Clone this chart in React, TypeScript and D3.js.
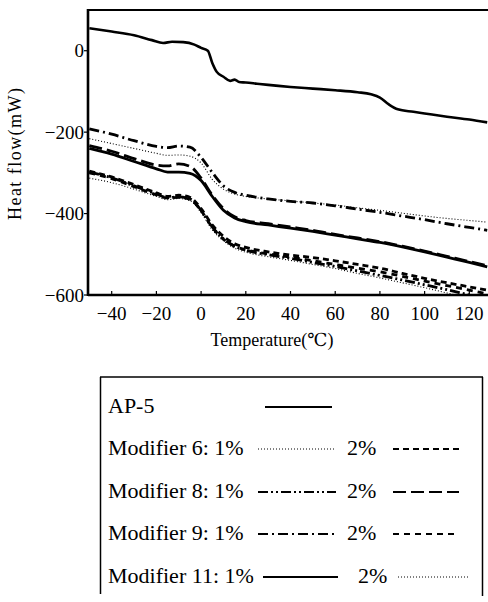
import React from "react";
import * as d3 from "d3";

const W = 488;
const H = 602;

const X_TICKS = [-40, -20, 0, 20, 40, 60, 80, 100, 120];
const Y_TICKS = [0, -200, -400, -600];

const AP5_TEMPS = [-50, -40, -30, -22, -17, -13, -8, -3, 0, 3, 5, 7, 10, 13, 15, 17, 20, 25, 30, 40, 50, 60, 70, 76, 80, 84, 88, 95, 100, 110, 120, 128];
const AP5 = [55, 47, 38, 26, 19, 22, 21, 15, 7, 0, -30, -52, -64, -74, -71, -77, -78, -81, -84, -89, -93, -97, -102, -107, -115, -132, -144, -150, -154, -162, -169, -176];

const TEMPS = [-50, -40, -30, -20, -15, -10, -5, 0, 5, 10, 15, 20, 30, 40, 50, 60, 70, 80, 90, 100, 110, 120, 128];
const MOD9_1 = [-192, -205, -221, -235, -238, -234, -237, -262, -299, -332, -348, -355, -364, -370, -374, -381, -389, -397, -406, -415, -425, -434, -441];
const MOD6_1 = [-216, -228, -240, -252, -257, -256, -259, -276, -316, -340, -352, -358, -364, -369, -374, -379, -386, -392, -399, -406, -412, -417, -421];
const MOD8_2 = [-233, -247, -265, -281, -283, -278, -284, -313, -355, -388, -408, -417, -425, -433, -441, -451, -460, -469, -480, -492, -505, -518, -528];
const MOD11_1 = [-240, -254, -272, -290, -298, -298, -301, -319, -358, -392, -411, -420, -428, -436, -444, -453, -462, -471, -482, -494, -507, -520, -531];
const MOD6_2 = [-296, -310, -329, -349, -358, -355, -360, -388, -428, -456, -474, -483, -494, -502, -508, -516, -525, -534, -547, -559, -570, -580, -588];
const MOD8_1 = [-298, -312, -332, -352, -361, -359, -364, -392, -433, -462, -480, -490, -501, -510, -520, -530, -541, -552, -563, -575, -587, -600, -610];
const MOD9_2 = [-300, -314, -334, -354, -362, -360, -365, -393, -434, -463, -480, -489, -499, -507, -516, -525, -534, -543, -554, -566, -577, -588, -597];
const MOD11_2 = [-313, -324, -340, -358, -366, -363, -368, -398, -440, -467, -485, -495, -506, -515, -525, -535, -547, -558, -570, -582, -595, -608, -618];

const DASH_SOLID = "";
const DASH_DOT = "1,2";
const DASH_SHORT = "6,4";
const DASH_SHORT2 = "6,5";
const DASH_LONG = "13,5";
const DASH_DASHDOT = "10,4,2,4";
const DASH_DASHDOTDOT = "10,3,2,3,2,3";

const SERIES = [
  { temps: AP5_TEMPS, values: AP5, dash: DASH_SOLID, width: 2.6 },
  { temps: TEMPS, values: MOD6_1, dash: DASH_DOT, width: 1.1 },
  { temps: TEMPS, values: MOD9_1, dash: DASH_DASHDOT, width: 2.8 },
  { temps: TEMPS, values: MOD8_2, dash: DASH_LONG, width: 2.8 },
  { temps: TEMPS, values: MOD11_1, dash: DASH_SOLID, width: 2.8 },
  { temps: TEMPS, values: MOD6_2, dash: DASH_SHORT, width: 2.8 },
  { temps: TEMPS, values: MOD8_1, dash: DASH_DASHDOTDOT, width: 2.8 },
  { temps: TEMPS, values: MOD9_2, dash: DASH_SHORT2, width: 2.8 },
  { temps: TEMPS, values: MOD11_2, dash: DASH_DOT, width: 1.1 },
];

const LEGEND_LABELS = ["AP-5", "Modifier 6: 1%", "Modifier 8: 1%", "Modifier 9: 1%", "Modifier 11: 1%"];
const LEGEND_DASH1 = [DASH_SOLID, DASH_DOT, DASH_DASHDOTDOT, DASH_DASHDOT, DASH_SOLID];
const LEGEND_DASH2 = [null, DASH_SHORT, DASH_LONG, DASH_SHORT2, DASH_DOT];

const FONT = "'Liberation Serif', 'DejaVu Serif', serif";

export default function App() {
  const left = 88, right = 489, top = 10, bottom = 295;
  const x = d3.scaleLinear().domain([-50.6, 128.8]).range([left, right]);
  const y = d3.scaleLinear().domain([-600, 100]).range([bottom, top]);

  const line = (temps: number[], values: number[]) =>
    d3.line<number>()
      .x((_, i) => x(temps[i]))
      .y((v) => y(v))
      .curve(d3.curveMonotoneX)(values) || "";

  const legTop = 377;
  const rowY = [413, 455, 498, 540, 583];

  return (
    <svg width={W} height={H} style={{ position: "absolute", left: 0, top: 0, background: "#fff" }} fontFamily={FONT}>
      <defs>
        <clipPath id="plotClip">
          <rect x={left} y={top} width={right - left} height={bottom - top} />
        </clipPath>
      </defs>
      <rect x={0} y={0} width={W} height={H} fill="#fff" />
      <g clipPath="url(#plotClip)">
        {SERIES.map((s, i) => (
          <path
            key={i}
            d={line(s.temps, s.values)}
            fill="none"
            stroke="#000"
            strokeWidth={s.width}
            strokeDasharray={s.dash || undefined}
            strokeLinejoin="round"
          />
        ))}
      </g>
      {/* frame */}
      <line x1={left} y1={top} x2={right} y2={top} stroke="#000" strokeWidth={2.2} />
      <line x1={left} y1={top - 1} x2={left} y2={bottom + 1} stroke="#000" strokeWidth={2.6} />
      <line x1={left} y1={bottom} x2={right} y2={bottom} stroke="#000" strokeWidth={2.6} />
      {/* y ticks */}
      {Y_TICKS.map((t) => (
        <g key={t}>
          <line x1={left - 4} x2={left} y1={y(t)} y2={y(t)} stroke="#000" strokeWidth={1.2} />
          <text x={left - 4} y={y(t)} dy="0.35em" textAnchor="end" fontSize={19}>
            {t < 0 ? "\u2212" + Math.abs(t) : String(t)}
          </text>
        </g>
      ))}
      {/* x ticks */}
      {X_TICKS.map((t) => (
        <g key={t}>
          <line x1={x(t)} x2={x(t)} y1={bottom} y2={bottom - 4} stroke="#000" strokeWidth={1.2} />
          <text x={x(t)} y={320} textAnchor="middle" fontSize={19}>
            {t < 0 ? "\u2212" + Math.abs(t) : String(t)}
          </text>
        </g>
      ))}
      <text x={272} y={346} textAnchor="middle" fontSize={18}>Temperature(℃)</text>
      <text
        transform="translate(21,154) rotate(-90)"
        textAnchor="middle"
        fontSize={18}
        textLength={132}
        lengthAdjust="spacing"
      >
        Heat flow(mW)
      </text>

      {/* legend */}
      <g>
        <line x1={100} y1={legTop} x2={483} y2={legTop} stroke="#000" strokeWidth={1.5} />
        <line x1={100.5} y1={legTop} x2={100.5} y2={594} stroke="#000" strokeWidth={1.5} />
        <line x1={482.5} y1={legTop} x2={482.5} y2={596} stroke="#000" strokeWidth={1.5} />
        {LEGEND_LABELS.map((lab, i) => {
          const yy = rowY[i];
          const isLast = i === 4;
          const l1x1 = isLast ? 263 : i === 0 ? 265 : 258;
          const l1x2 = isLast ? 338 : i === 0 ? 332 : 336;
          const t2x = isLast ? 358 : 347;
          const l2x1 = isLast ? 398 : 393;
          const l2x2 = isLast ? 470 : 459;
          const lw1 = LEGEND_DASH1[i] === DASH_DOT ? 1 : 2.2;
          const d2 = LEGEND_DASH2[i];
          const lw2 = d2 === DASH_DOT ? 1 : 2.2;
          return (
            <g key={lab}>
              <text x={108} y={yy} fontSize={22}>{lab}</text>
              <line
                x1={l1x1}
                x2={l1x2}
                y1={yy - 6}
                y2={yy - 6}
                stroke="#000"
                strokeWidth={lw1}
                strokeDasharray={LEGEND_DASH1[i] || undefined}
              />
              {d2 !== null && (
                <>
                  <text x={t2x} y={yy} fontSize={22}>2%</text>
                  <line
                    x1={l2x1}
                    x2={l2x2}
                    y1={yy - 6}
                    y2={yy - 6}
                    stroke="#000"
                    strokeWidth={lw2}
                    strokeDasharray={d2 || undefined}
                  />
                </>
              )}
            </g>
          );
        })}
      </g>
    </svg>
  );
}
